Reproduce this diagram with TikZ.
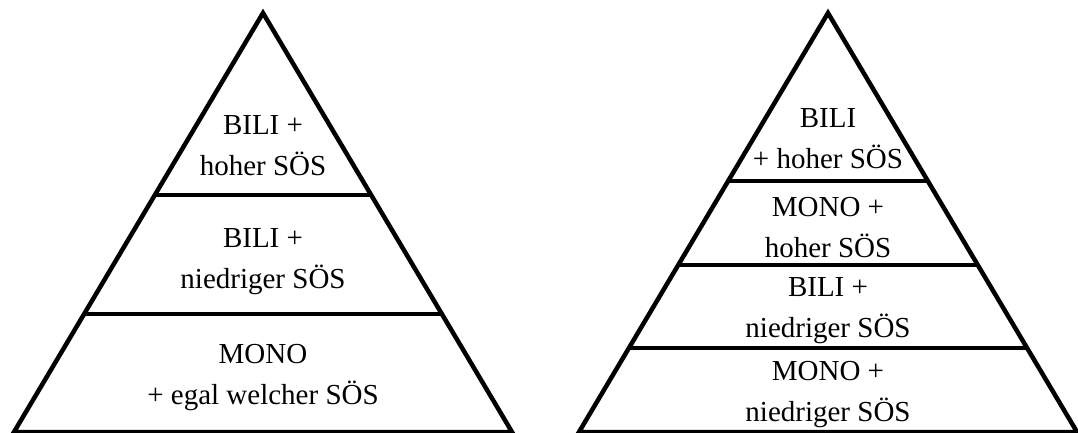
\documentclass[tikz,border=0pt]{standalone}
\usepackage{fontspec}
\setmainfont{Liberation Serif}
\usetikzlibrary{calc}
\begin{document}
\begin{tikzpicture}[x=1pt,y=-1pt,
  edge/.style={line width=4.5pt,line join=miter,line cap=butt},
  lbl/.style={font=\fontsize{29}{41}\selectfont,anchor=base,inner sep=0pt}]
\useasboundingbox (0,0) rectangle (1078,432);
% left pyramid
\coordinate (LA) at (263,13);
\coordinate (LL) at (14,432);
\coordinate (LR) at (512,432);
\draw[edge] (LA) -- (LL) -- (LR) -- cycle;
\foreach \yy/\nm in {195/l1,314/l2}{
  \coordinate (\nm a) at ($(LA)!{(\yy-13)/419}!(LL)$);
  \coordinate (\nm b) at ($(LA)!{(\yy-13)/419}!(LR)$);
  \draw[edge] (\nm a) -- (\nm b);
}
% right pyramid
\coordinate (RA) at (828,13);
\coordinate (RL) at (579,432);
\coordinate (RR) at (1077,432);
\draw[edge] (RA) -- (RL) -- (RR) -- cycle;
\foreach \yy/\nm in {181/r1,265/r2,348/r3}{
  \coordinate (\nm a) at ($(RA)!{(\yy-13)/419}!(RL)$);
  \coordinate (\nm b) at ($(RA)!{(\yy-13)/419}!(RR)$);
  \draw[edge] (\nm a) -- (\nm b);
}
% left labels
\node[lbl] (lt1) at (263,134) {BILI +};
\node[lbl] (lt2) at (263,175) {hoher SÖS};
\node[lbl] (lm1) at (263,247) {BILI +};
\node[lbl] (lm2) at (263,288) {niedriger SÖS};
\node[lbl] (lb1) at (263,363) {MONO};
\node[lbl] (lb2) at (263,404) {+ egal welcher SÖS};
% right labels
\node[lbl] (r11) at (828,127) {BILI};
\node[lbl] (r12) at (828,168) {+ hoher SÖS};
\node[lbl] (r21) at (828,216) {MONO +};
\node[lbl] (r22) at (828,257) {hoher SÖS};
\node[lbl] (r31) at (828,296) {BILI +};
\node[lbl] (r32) at (828,337) {niedriger SÖS};
\node[lbl] (r41) at (828,380) {MONO +};
\node[lbl] (r42) at (828,421) {niedriger SÖS};
\end{tikzpicture}
\end{document}
